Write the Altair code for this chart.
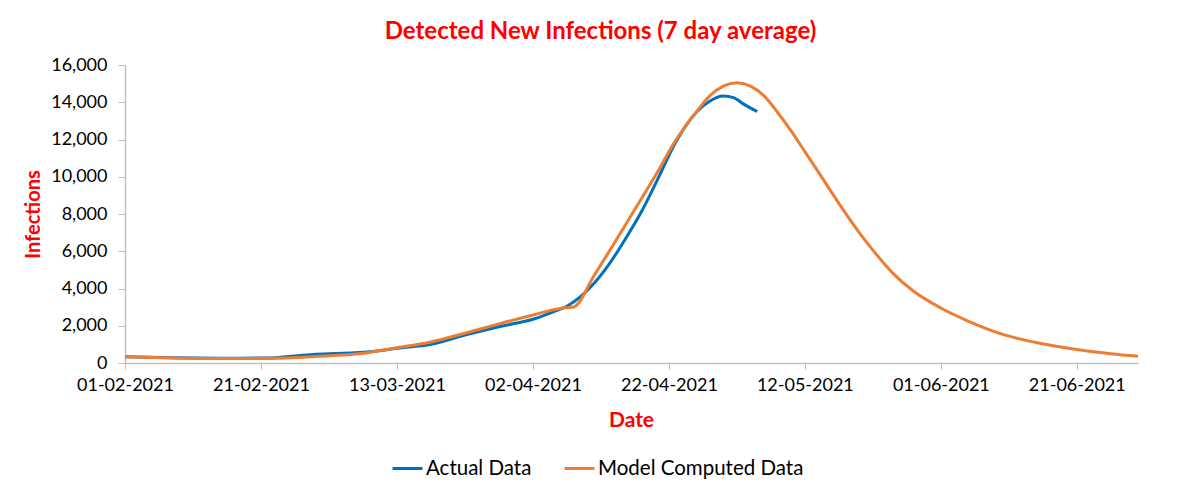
import altair as alt
import pandas as pd

START = "2021-02-01"

# Model computed data (day offset from 01-02-2021, value)
model_days = [0, 7, 14, 21, 28, 35, 40, 45, 50, 55, 60, 64, 66, 69, 72, 75, 78, 81, 84,
              86, 88, 90, 92, 94, 96, 98, 100, 102, 105, 108, 110, 113, 116, 120, 124,
              129, 134, 140, 145, 149]
model_vals = [330, 270, 240, 250, 350, 520, 820, 1130, 1600, 2100, 2580, 2930, 3010, 4700,
              6450, 8250, 10050, 11950, 13450, 14340, 14870, 15050, 14870, 14340, 13450,
              12450, 11350, 10250, 8570, 7000, 6060, 4800, 3850, 2950, 2250, 1550, 1100,
              720, 500, 360]

# Actual data
actual_days = [0, 7, 14, 21, 25, 28, 33, 36, 40, 45, 50, 55, 60, 63, 65, 69, 71, 74, 76,
               78, 81, 84, 86, 88, 89.5, 91, 93]
actual_vals = [340, 280, 260, 270, 380, 470, 540, 600, 790, 1000, 1500, 1950, 2350, 2750,
               3050, 4280, 5200, 6900, 8150, 9600, 11850, 13450, 14050, 14330, 14250, 13900,
               13500]

series_names = ["Actual Data", "Model Computed Data"]
series_colors = ["#0070C0", "#ED7D31"]

tick_dates = ["2021-02-01", "2021-02-21", "2021-03-13", "2021-04-02", "2021-04-22",
              "2021-05-12", "2021-06-01", "2021-06-21"]
y_ticks = [0, 2000, 4000, 6000, 8000, 10000, 12000, 14000, 16000]


def to_dates(days):
    base = pd.Timestamp(START)
    return [(base + pd.Timedelta(hours=d * 24)).strftime("%Y-%m-%dT%H:%M:%S") for d in days]


df = pd.concat([
    pd.DataFrame({"date": to_dates(actual_days), "value": actual_vals, "series": series_names[0]}),
    pd.DataFrame({"date": to_dates(model_days), "value": model_vals, "series": series_names[1]}),
])


def dt(s):
    y, m, d = map(int, s.split("-"))
    return alt.DateTime(year=y, month=m, date=d, utc=True)


FONT = "Lato"
RED = "#FF0000"

x_label_expr = ("(utcdate(datum.value) < 10 ? '0' : '') + utcdate(datum.value) + '-' + "
                "(utcmonth(datum.value) < 9 ? '0' : '') + (utcmonth(datum.value) + 1) + '-' + "
                "utcyear(datum.value)")
y_label_expr = "datum.value == 0 ? '0' : floor(datum.value / 1000) + ',000'"

chart = alt.Chart(df).mark_line(strokeWidth=3, interpolate="monotone").encode(
    x=alt.X("date:T",
            scale=alt.Scale(type="utc", domain=[dt("2021-02-01"), dt("2021-06-30")], nice=False),
            axis=alt.Axis(values=[dt(s) for s in tick_dates], labelExpr=x_label_expr,
                          title="Date", titleX=506, titleY=57, titleAlign="center",
                          titleBaseline="middle", grid=False, tickSize=6, labelPadding=7,
                          labelFontSize=18, labelFont=FONT, labelColor="#000000",
                          titleFont=FONT, titleFontSize=21, titleFontWeight="bold",
                          titleColor=RED, domainColor="#BFBFBF", tickColor="#BFBFBF",
                          domainWidth=1.5, labelOverlap=False, labelFlush=False)),
    y=alt.Y("value:Q",
            scale=alt.Scale(domain=[0, 16000], nice=False),
            axis=alt.Axis(values=y_ticks, labelExpr=y_label_expr, title="Infections",
                          titleX=-92, titleY=149, titleAngle=270, titleAlign="center",
                          titleBaseline="middle", grid=False, tickSize=7, labelPadding=11,
                          labelFontSize=18, labelFont=FONT, labelColor="#000000",
                          titleFont=FONT, titleFontSize=20, titleFontWeight="bold",
                          titleColor=RED, domainColor="#BFBFBF", tickColor="#BFBFBF",
                          domainWidth=1.5)),
    color=alt.Color("series:N",
                    scale=alt.Scale(domain=series_names, range=series_colors),
                    legend=alt.Legend(title=None, orient="none", direction="horizontal",
                                      legendX=266, legendY=387, symbolType="stroke",
                                      symbolSize=900, symbolStrokeWidth=3, labelFont=FONT,
                                      labelFontSize=20.5, labelColor="#000000", labelOffset=2,
                                      labelLimit=400, columnPadding=26)),
    order=alt.Order("date:T"),
).properties(
    width=1013,
    height=298,
    title=alt.TitleParams(text="Detected New Infections (7 day average)", font=FONT,
                          fontSize=24, fontWeight="bold", color=RED, anchor="middle",
                          dx=-31, offset=12),
    autosize=alt.AutoSizeParams(type="none"),
    padding={"left": 117, "top": 57, "right": 40, "bottom": 120},
).configure_view(stroke=None)

chart.save("out.html", embed_options={"renderer": "svg", "actions": False})
